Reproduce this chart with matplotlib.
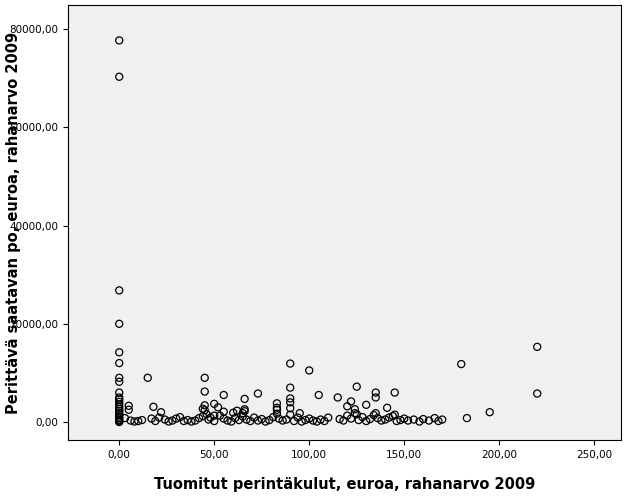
import matplotlib
matplotlib.use("Agg")
import matplotlib.pyplot as plt
from matplotlib.ticker import FuncFormatter

# collection costs (x) vs receivable amount (y)
x_zero = [0]*24
y_zero = [77700, 70300, 26800, 20000, 14200, 12000, 9000, 8200, 6000, 5000, 4600,
          4100, 3600, 3100, 2700, 2300, 1900, 1500, 1100, 800, 500, 300, 150, 0]

x_high = [15, 45, 45, 90, 90, 90, 90, 100, 105, 125, 135, 135, 145, 180, 195, 220, 220,
          66, 73, 55, 50, 52, 122, 115, 120, 45, 83, 83, 124, 130, 141, 5, 5, 18, 22, 60, 62, 95]
y_high = [9000, 9000, 6200, 11900, 7000, 4800, 4000, 10500, 5500, 7200, 6000, 5000, 6000,
          11800, 2000, 15300, 5800, 4700, 5800, 5500, 3700, 3000, 4200, 5000, 3200, 3400,
          3800, 2900, 2600, 3500, 2900, 3300, 2500, 3100, 2000, 1900, 2300, 1800]

x_low = [3, 6, 8, 10, 12, 17, 19, 21, 24, 26, 28, 30, 32, 34, 36, 38, 40, 42, 44, 46, 47,
         48, 50, 53, 55, 57, 59, 61, 63, 65, 66, 67, 69, 71, 73, 75, 77, 79, 81, 83, 84,
         86, 88, 90, 92, 94, 96, 98, 100, 102, 104, 106, 108, 110, 116, 118, 120, 122, 124,
         126, 128, 130, 132, 134, 136, 138, 140, 142, 144, 146, 148, 150, 152, 155, 158,
         160, 163, 166, 168, 170, 183, 45, 55, 65, 83, 90, 125, 135, 145, 66, 44, 50]
y_low = [800, 300, 100, 200, 400, 700, 200, 900, 500, 100, 300, 700, 1000, 200, 400, 100,
         300, 800, 1200, 1600, 500, 900, 200, 1300, 700, 300, 100, 800, 400, 1100, 2200,
         500, 200, 900, 300, 600, 100, 400, 1000, 1700, 700, 300, 500, 1500, 200, 900, 100,
         400, 700, 300, 100, 500, 200, 900, 600, 300, 1300, 700, 1800, 400, 1000, 200, 600,
         1400, 800, 300, 500, 900, 1200, 200, 400, 700, 300, 500, 100, 600, 300, 800, 200,
         500, 800, 2400, 2100, 1800, 2500, 2800, 1600, 1800, 1500, 2600, 2700, 1300]

xs = x_zero + x_high + x_low
ys = y_zero + y_high + y_low

fig = plt.figure(figsize=(6.29, 5.04), dpi=100)
ax = fig.add_axes([0.108, 0.127, 0.879, 0.863])
ax.set_facecolor("#f0f0f0")
ax.scatter(xs, ys, s=26, facecolors="none", edgecolors="black", linewidths=0.9)
ax.set_xlim(-27, 264)
ax.set_ylim(-3660, 84900)
ax.set_xticks([0, 50, 100, 150, 200, 250])
ax.set_yticks([0, 20000, 40000, 60000, 80000])
fmt = FuncFormatter(lambda v, p: f"{v:.2f}".replace(".", ","))
ax.xaxis.set_major_formatter(fmt)
ax.yaxis.set_major_formatter(fmt)
ax.tick_params(labelsize=7.5)
ax.set_xlabel("Tuomitut perintäkulut, euroa, rahanarvo 2009", fontsize=10.5, fontweight="bold")
ax.set_ylabel("Perittävä saatavan po, euroa, rahanarvo 2009", fontsize=10.5, fontweight="bold")
ax.yaxis.set_label_coords(-0.085, 0.5)
ax.xaxis.set_label_coords(0.5, -0.085)
fig.savefig("out.png", dpi=100)
